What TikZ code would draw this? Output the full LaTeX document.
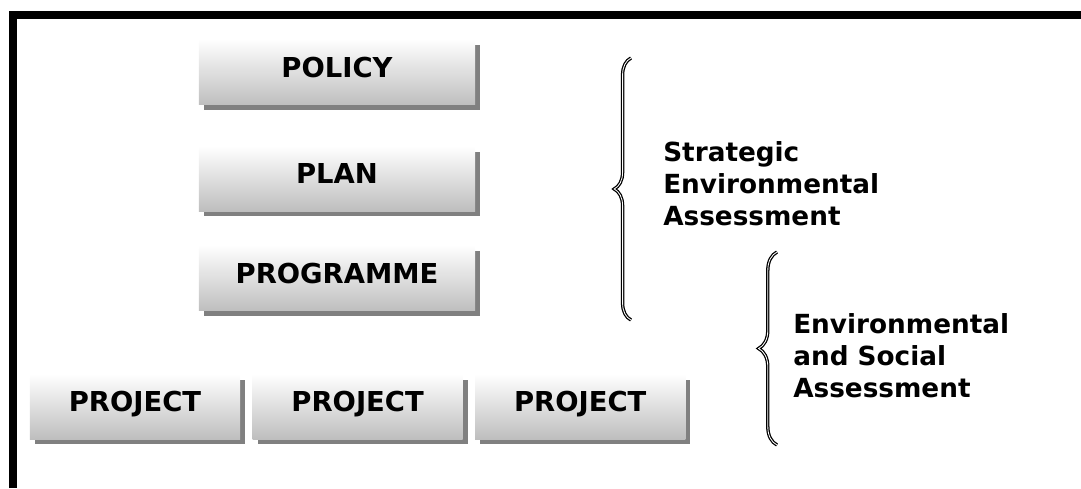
\documentclass[tikz,border=0pt]{standalone}
\usepackage{fontspec}
\setmainfont{DejaVu Sans}
\usepackage{tikz}
\usetikzlibrary{
  positioning,
  shadows,
  decorations.pathreplacing
}
\definecolor{boxtop}{HTML}{FEFEFE}
\definecolor{boxbottom}{HTML}{BEBEBE}
\definecolor{boxshadow}{HTML}{808080}
\definecolor{bracegray}{HTML}{707070}

\begin{document}
\begin{tikzpicture}[
  x=0.025cm, y=-0.025cm,
  level/.style={
    rectangle, inner sep=0pt,
    top color=boxtop, bottom color=boxbottom,
    minimum width=6.9cm, minimum height=1.6cm,
    text height=0.49cm, text depth=0.25cm,
    font=\fontsize{19.5}{23}\selectfont\bfseries,
    drop shadow={shadow xshift=0.125cm, shadow yshift=-0.125cm,
      fill=boxshadow, opacity=1}
  },
  project/.style={level, minimum width=5.25cm},
  scopebrace/.style={
    decorate, decoration={brace, amplitude=#1},
    line width=0.9pt, draw=black, double=white, double distance=0.6pt
  },
  braceshade/.style={
    decorate, decoration={brace, amplitude=#1},
    line width=1.1pt, draw=bracegray
  },
  sidelabel/.style={
    inner sep=0pt, align=left,
    font=\fontsize{18.7}{22.7}\selectfont\bfseries
  }
]
\useasboundingbox (0,0) rectangle (1081,488);

% FRAME
\draw[line width=0.2cm] (13,488) -- (13,14.5) -- (1081,14.5);

% POLICY LEVELS
\node[level] (policy) at (337,72.5) {POLICY};
\node[level] (plan) at (337,179) {PLAN};
\node[level] (programme) at (337,278.5) {PROGRAMME};

% PROJECTS
\node[project] (projA) at (135,407) {PROJECT};
\node[project, right=0.3cm of projA] (projB) {PROJECT};
\node[project, right=0.3cm of projB] (projC) {PROJECT};

% SEA brace (base anchor sits on the last line)
\coordinate (seaTop) at (631,58);
\coordinate (seaBot) at (631,320);
\draw[braceshade=0.42cm, xshift=0.07cm] (seaBot) -- (seaTop);
\draw[scopebrace=0.42cm] (seaBot) -- (seaTop);
\node[sidelabel, anchor=base west] (seaText) at (663,225)
  {Strategic\\Environmental\\Assessment};

% ESA brace
\coordinate (esaTop) at (777,252);
\coordinate (esaBot) at (777,445);
\draw[braceshade=0.46cm, xshift=0.07cm] (esaBot) -- (esaTop);
\draw[scopebrace=0.46cm] (esaBot) -- (esaTop);
\node[sidelabel, anchor=base west] (esaText) at (793,397)
  {Environmental\\and Social\\Assessment};

\end{tikzpicture}
\end{document}
